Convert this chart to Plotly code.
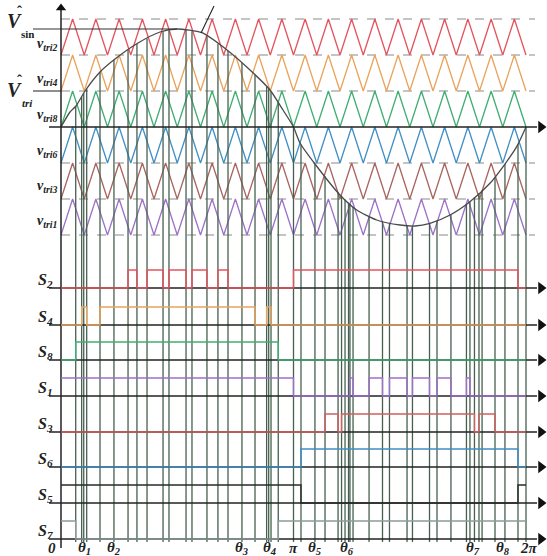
import numpy as np
import plotly.graph_objects as go

# ---------------- picture calibration (pixel -> data) ----------------
W, H = 547, 556
PX_0, PX_2PI = 61, 526        # x pixel of angle 0 and 2*pi
PY_ZERO, BAND_PX = 127, 36    # y pixel of zero axis, height of one carrier band


def X(px):
    return (px - PX_0) * 360.0 / (PX_2PI - PX_0)


def Y(py):
    return (PY_ZERO - py) / BAND_PX


# ---------------- data ----------------
carrier_labels = ["tri2", "tri4", "tri8", "tri6", "tri3", "tri1"]
carrier_lows = [2, 1, 0, -1, -2, -3]
carrier_colors = ["#e4535d", "#e9a35b", "#3fae72", "#3f8fc6", "#a8645f", "#9d70c9"]
carrier_cycles = 20

# reference (sine) waveform: angle [deg], value [carrier bands]
sine_deg = [0, 6.97, 11.61, 18.58, 30.19, 41.81, 59.61, 76.65, 89.81, 109.16, 128.52,
            146.32, 161.81, 171.87, 180, 185.03, 196.65, 216.0, 228.9, 244.4, 262.5,
            274.1, 285.7, 301.2, 316.6, 332.1, 343.7, 352.8, 360]
sine_val = [0, 0.417, 0.583, 1.0, 1.528, 1.889, 2.333, 2.639, 2.722, 2.619, 2.139,
            1.583, 1.028, 0.472, 0, -0.444, -1.028, -1.889, -2.306, -2.583, -2.722,
            -2.75, -2.675, -2.444, -2.075, -1.564, -1.028, -0.547, 0]

# switching signals: initial state and switching angles [deg]
switch_names = ["2", "4", "8", "1", "3", "6", "5", "7"]
switch_colors = ["#e4535d", "#e9a35b", "#3fae72", "#9d70c9", "#d0605f", "#3f8fc6", "#2a2a2a", "#8c9c9a"]
switch_init = [0, 0, 0, 1, 0, 0, 1, 1]
s2_edges = [51.9, 58.8, 66.6, 79.0, 83.6, 96.8, 101.4, 113.0, 121.5, 129.3, 180.0, 353.8]
s4_edges = [16.0, 19.9, 30.2, 150.2, 159.2, 162.6]
s8_edges = [11.4, 168.2]
s1_edges = [180.0, 223.7, 226.1, 238.5, 248.9, 254.3, 267.9, 272.1, 285.3, 291.1, 301.9, 313.9, 316.6]
s3_edges = [204.4, 214.5, 217.2, 320.1, 323.6, 336.0]
s6_edges = [185.8, 353.8]
s5_edges = [185.8, 353.8]
s7_edges = [11.4, 168.2]
switch_edges = [s2_edges, s4_edges, s8_edges, s1_edges, s3_edges, s6_edges, s5_edges, s7_edges]
switch_base_px = [288, 325, 360, 396, 432, 467, 503, 539]
pulse_height = 0.5

theta_angles = [0, 16.0, 41.0, 140.1, 162.6, 180, 196.6, 219.9, 320.1, 343.7, 360]
theta_texts = ["0", "θ<sub>1</sub>", "θ<sub>2</sub>", "θ<sub>3</sub>", "θ<sub>4</sub>", "π",
               "θ<sub>5</sub>", "θ<sub>6</sub>", "θ<sub>7</sub>", "θ<sub>8</sub>", "2π"]
theta_xshift = [-9, 3, 0, 0, -2, 0, 0, 2, -1, -2, 3]
extra_lines = [17.6, 160.8, 222.6, 326.0]

# ---------------- figure ----------------
fig = go.Figure()
SERIF = "Liberation Serif"
GRID = "#8a8a8a"
VLINE = "#46604f"


def seg_trace(xs, ys, color, width, dash=None):
    fig.add_trace(go.Scatter(x=xs, y=ys, mode="lines", hoverinfo="skip",
                             line=dict(color=color, width=width, dash=dash)))


# dashed band borders
dx, dy = [], []
for lv in [3, 2, 1, -1, -2, -3]:
    dx += [0, X(535), None]
    dy += [lv, lv, None]
seg_trace(dx, dy, GRID, 1.1, "dash")

# triangular carriers
half = 360.0 / carrier_cycles / 2
cx = np.arange(0, 360 + 1e-9, half)
for lo, col in zip(carrier_lows, carrier_colors):
    cy = [lo + (i % 2) for i in range(len(cx))]
    seg_trace(cx, cy, col, 1.3)

# vertical switching-angle lines, from the sine curve down to the time axis
all_angles = sorted(set([a for e in switch_edges for a in e] + theta_angles[1:] + extra_lines))
vx, vy = [], []
for a in all_angles:
    vx += [a, a, None]
    vy += [float(np.interp(a, sine_deg, sine_val)), Y(542), None]
seg_trace(vx, vy, VLINE, 1.3)

# reference waveform
fig.add_trace(go.Scatter(x=sine_deg, y=sine_val, mode="lines", hoverinfo="skip",
                         line=dict(color="#4a4a4a", width=1.3, shape="spline", smoothing=0.6)))

# V_sin / V_tri reference lines and leader line
seg_trace([X(33), sine_deg[int(np.argmax(sine_val))]], [max(sine_val)] * 2, "#333333", 1.1)
seg_trace([X(33), 0], [1, 1], "#333333", 1.1)
seg_trace([X(201), X(214)], [Y(33), Y(6)], "#222222", 1.1)

# axes
base_v = [Y(p) for p in switch_base_px]
ax_x, ax_y = [], []
for b in [0] + base_v:
    ax_x += [X(49), X(537), None]
    ax_y += [b, b, None]
seg_trace(ax_x, ax_y, "#222222", 1.3)
seg_trace([0, 0], [Y(548), Y(9)], "#222222", 1.5)
fig.add_trace(go.Scatter(x=[X(541)] * (len(base_v) + 1), y=[0] + base_v, mode="markers",
                         hoverinfo="skip",
                         marker=dict(symbol="triangle-right", size=11, color="#111111")))
fig.add_trace(go.Scatter(x=[0], y=[Y(8)], mode="markers", hoverinfo="skip",
                         marker=dict(symbol="triangle-up", size=9, color="#111111")))

# switching signals
for edges, init, b, col in zip(switch_edges, switch_init, base_v, switch_colors):
    xs = [0] + edges + [360]
    states = [init]
    for _ in edges:
        states.append(1 - states[-1])
    states.append(states[-1])
    ys = [b + pulse_height * s for s in states]
    fig.add_trace(go.Scatter(x=xs, y=ys, mode="lines", hoverinfo="skip",
                             line=dict(color=col, width=1.4, shape="hv")))

# ---------------- text ----------------
ann = []


def txt(px, py, text, size, **kw):
    ann.append(dict(x=X(px), y=Y(py), xref="x", yref="y", text=text, showarrow=False,
                    font=dict(family=SERIF, size=size, color="#222222"), **kw))


txt(14.5, 21, "<b><i>V</i></b>", 20)
txt(19, 11, "<b>ˆ</b>", 15)
txt(27, 34, "<b>sin</b>", 11)
txt(14.5, 90, "<b><i>V</i></b>", 20)
txt(19, 80, "<b>ˆ</b>", 15)
txt(27, 103, "<b><i>tri</i></b>", 11)

carrier_label_py = [44, 79, 115, 151, 186, 221]
for lab, py in zip(carrier_labels, carrier_label_py):
    txt(47, py, "<b><i>v<sub>%s</sub></i></b>" % lab, 14)

for nm, bpx in zip(switch_names, switch_base_px):
    txt(45, bpx - 8, "<b><i>S<sub>%s</sub></i></b>" % nm, 16)

for a, t, xs in zip(theta_angles, theta_texts, theta_xshift):
    ann.append(dict(x=a, y=Y(548), xref="x", yref="y", text="<b><i>%s</i></b>" % t,
                    showarrow=False, xshift=xs,
                    font=dict(family=SERIF, size=15, color="#222222")))

fig.update_layout(
    width=W, height=H, margin=dict(l=0, r=0, t=0, b=0, pad=0),
    paper_bgcolor="white", plot_bgcolor="white", showlegend=False,
    xaxis=dict(range=[X(0), X(W)], visible=False, fixedrange=True),
    yaxis=dict(range=[Y(H), Y(0)], visible=False, fixedrange=True),
    annotations=ann,
)
fig.write_html("out.html", config={"displayModeBar": False},
               post_script="document.body.style.margin='0px';document.body.style.overflow='hidden';")
